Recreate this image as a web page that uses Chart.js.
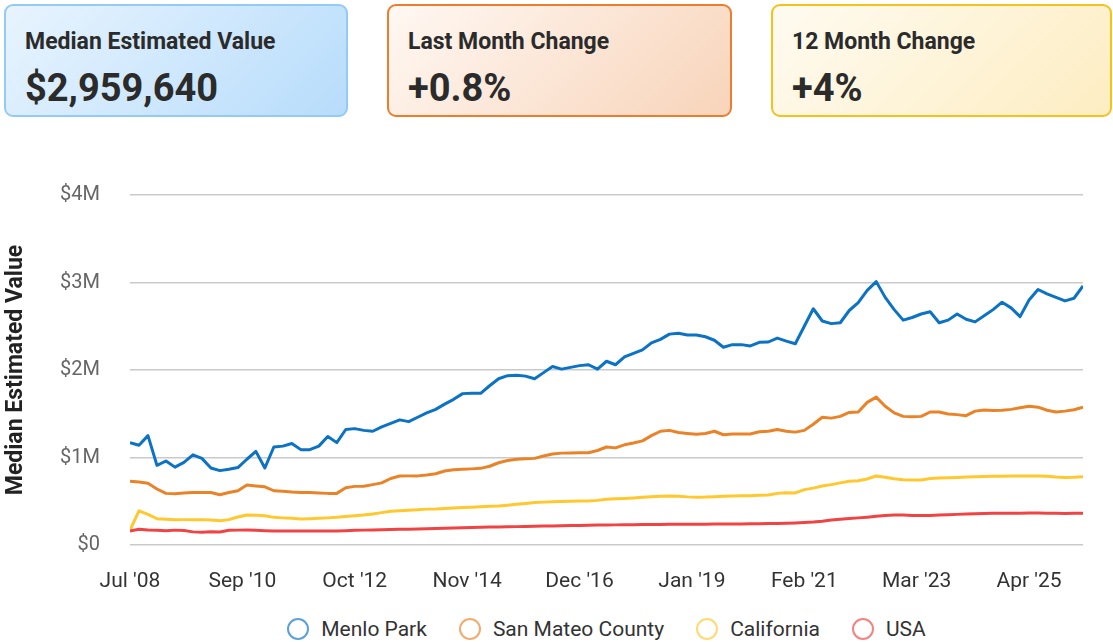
<!DOCTYPE html>
<html>
<head>
<meta charset="utf-8">
<script src="https://cdn.jsdelivr.net/npm/chart.js@4.4.1/dist/chart.umd.min.js"></script>
<style>
  html, body { margin: 0; padding: 0; background: #fff; width: 1113px; height: 642px; overflow: hidden; font-family: Roboto, sans-serif; }
  .card { position: absolute; top: 4px; height: 109px; border: 2px solid; border-radius: 9px; box-sizing: content-box; }
  .card .ttl { position: absolute; left: 19px; top: 23px; font-size: 23px; line-height: 26px; font-weight: 700; color: #2b2b2b; white-space: nowrap; }
  .card .val { position: absolute; left: 19px; top: 61px; font-size: 38px; line-height: 42px; font-weight: 700; color: #2b2b2b; white-space: nowrap; }
  #c1 { left: 4px; width: 340px; border-color: #93cbf4; background: linear-gradient(135deg, #e8f4fe 0%, #b7dcfb 100%); }
  #c2 { left: 387px; width: 341px; border-color: #ec7d2e; background: linear-gradient(135deg, #fff8f3 0%, #f8d4ba 100%); }
  #c3 { left: 771px; width: 337px; border-color: #f5c21b; background: linear-gradient(135deg, #fffbf1 0%, #fdedc2 100%); }
  #wrap { position: absolute; left: 0; top: 140px; width: 1113px; height: 465px; }
  #legend { position: absolute; left: 130px; width: 953px; top: 617px; height: 24px; display: flex; justify-content: center; align-items: center; font-size: 21px; color: #333; }
  #legend .item { display: flex; align-items: center; margin: 0 16px; white-space: nowrap; }
  #legend .dot { width: 18px; height: 18px; border-radius: 50%; border: 2px solid; margin-right: 12px; box-sizing: content-box; }
</style>
</head>
<body>
<div class="card" id="c1"><div class="ttl">Median Estimated Value</div><div class="val">$2,959,640</div></div>
<div class="card" id="c2"><div class="ttl">Last Month Change</div><div class="val">+0.8%</div></div>
<div class="card" id="c3"><div class="ttl">12 Month Change</div><div class="val">+4%</div></div>
<div id="wrap"><canvas id="chart"></canvas></div>
<div id="legend"></div>
<script>
// values in $M, one point every 2 months starting Jul 2008
const STEP = 2;
const TICK_POS = [0, 25, 50, 75, 100, 125, 150, 175, 200];
const TICK_LABELS = ["Jul '08", "Sep '10", "Oct '12", "Nov '14", "Dec '16", "Jan '19", "Feb '21", "Mar '23", "Apr '25"];
const SERIES_NAMES = ['Menlo Park', 'San Mateo County', 'California', 'USA'];
const COLORS = ['#0b72c4', '#ea8328', '#ffc82e', '#f04444'];

const menloPark = [1.17,1.14,1.25,0.91,0.96,0.89,0.945,1.03,0.99,0.88,
  0.85,0.865,0.885,0.98,1.07,0.88,1.12,1.13,1.16,1.09,
  1.09,1.13,1.24,1.17,1.32,1.33,1.31,1.30,1.35,1.39,
  1.43,1.41,1.46,1.51,1.55,1.61,1.665,1.73,1.733,1.733,
  1.82,1.90,1.935,1.94,1.93,1.90,1.97,2.04,2.01,2.03,
  2.05,2.06,2.01,2.10,2.06,2.15,2.19,2.23,2.31,2.35,
  2.41,2.42,2.40,2.40,2.38,2.34,2.26,2.29,2.29,2.275,
  2.316,2.32,2.365,2.33,2.30,2.50,2.70,2.56,2.53,2.54,
  2.68,2.77,2.91,3.01,2.83,2.69,2.57,2.60,2.64,2.665,
  2.54,2.57,2.64,2.58,2.55,2.62,2.69,2.775,2.71,2.61,
  2.80,2.92,2.87,2.83,2.79,2.82,2.96];

const sanMateo = [0.73,0.72,0.705,0.64,0.59,0.585,0.595,0.60,0.60,0.60,
  0.575,0.60,0.62,0.685,0.675,0.665,0.62,0.615,0.605,0.60,
  0.60,0.595,0.59,0.59,0.655,0.67,0.672,0.69,0.71,0.76,
  0.788,0.79,0.79,0.80,0.815,0.845,0.86,0.865,0.87,0.876,
  0.90,0.94,0.965,0.98,0.985,0.99,1.017,1.04,1.05,1.052,
  1.053,1.055,1.08,1.12,1.11,1.145,1.165,1.19,1.25,1.30,
  1.31,1.285,1.275,1.265,1.275,1.30,1.26,1.268,1.269,1.269,
  1.295,1.30,1.32,1.30,1.29,1.31,1.38,1.46,1.45,1.47,
  1.515,1.52,1.63,1.69,1.585,1.51,1.47,1.467,1.47,1.52,
  1.52,1.497,1.49,1.478,1.53,1.543,1.538,1.54,1.55,1.568,
  1.585,1.575,1.54,1.52,1.53,1.545,1.575];

const california = [0.17,0.39,0.35,0.30,0.293,0.288,0.29,0.29,0.29,0.285,
  0.278,0.29,0.32,0.343,0.34,0.335,0.316,0.31,0.305,0.297,
  0.30,0.305,0.31,0.316,0.325,0.335,0.342,0.355,0.37,0.385,
  0.392,0.398,0.404,0.41,0.412,0.418,0.423,0.428,0.432,0.436,
  0.442,0.446,0.455,0.465,0.475,0.485,0.49,0.495,0.498,0.50,
  0.502,0.503,0.51,0.522,0.528,0.532,0.538,0.545,0.552,0.556,
  0.56,0.556,0.55,0.547,0.548,0.552,0.556,0.56,0.562,0.564,
  0.568,0.572,0.59,0.598,0.595,0.633,0.65,0.675,0.69,0.71,
  0.728,0.735,0.755,0.789,0.775,0.758,0.745,0.743,0.743,0.76,
  0.765,0.768,0.772,0.776,0.78,0.782,0.785,0.787,0.789,0.789,
  0.789,0.789,0.785,0.777,0.772,0.775,0.781];

const usa = [0.16,0.18,0.172,0.168,0.162,0.17,0.165,0.15,0.147,0.152,
  0.148,0.168,0.17,0.171,0.168,0.163,0.16,0.16,0.16,0.16,
  0.16,0.16,0.16,0.16,0.164,0.168,0.17,0.172,0.175,0.177,
  0.179,0.181,0.183,0.186,0.189,0.191,0.193,0.196,0.199,0.202,
  0.205,0.207,0.208,0.21,0.212,0.214,0.216,0.218,0.22,0.222,
  0.224,0.226,0.228,0.229,0.23,0.231,0.232,0.233,0.234,0.235,
  0.236,0.237,0.237,0.238,0.238,0.239,0.24,0.24,0.241,0.242,
  0.243,0.245,0.247,0.249,0.252,0.256,0.262,0.272,0.285,0.295,
  0.303,0.31,0.318,0.328,0.338,0.342,0.342,0.338,0.336,0.338,
  0.342,0.346,0.35,0.354,0.358,0.36,0.362,0.363,0.363,0.364,
  0.365,0.365,0.364,0.362,0.361,0.362,0.362];

const allSeries = [menloPark, sanMateo, california, usa];

function toPoints(arr){ return arr.map((v, i) => ({ x: i * STEP, y: v })); }

function buildLegend(){
  const box = document.getElementById('legend');
  SERIES_NAMES.forEach((name, i) => {
    const item = document.createElement('div');
    item.className = 'item';
    const dot = document.createElement('span');
    dot.className = 'dot';
    dot.style.borderColor = COLORS[i] + 'aa';
    const txt = document.createElement('span');
    txt.textContent = name;
    item.appendChild(dot); item.appendChild(txt);
    box.appendChild(item);
  });
}

Chart.defaults.font.family = 'Roboto, sans-serif';

const ctx = document.getElementById('chart').getContext('2d');
new Chart(ctx, {
  type: 'line',
  data: {
    datasets: allSeries.map((arr, i) => ({
      label: SERIES_NAMES[i],
      data: toPoints(arr),
      borderColor: COLORS[i],
      backgroundColor: COLORS[i],
      borderWidth: 3,
      pointRadius: 0,
      tension: 0,
      borderJoinStyle: 'round',
      fill: false
    })).reverse()
  },
  options: {
    responsive: true, maintainAspectRatio: false, animation: false,
    layout: { padding: { top: 55, right: 30, left: 0, bottom: 0 } },
    plugins: { legend: { display: false }, tooltip: { enabled: false } },
    scales: {
      x: {
        type: 'linear', min: 0, max: (menloPark.length - 1) * STEP,
        grid: { display: false },
        border: { display: false },
        afterBuildTicks: (s) => { s.ticks = TICK_POS.map(v => ({ value: v })); },
        afterFit: (s) => { s.height = 60; },
        ticks: {
          autoSkip: false, maxRotation: 0, padding: 16,
          color: '#333', font: { size: 21 },
          callback: (v) => { const k = TICK_POS.indexOf(v); return k >= 0 ? TICK_LABELS[k] : ''; }
        }
      },
      y: {
        min: 0, max: 4,
        grid: { color: '#cacaca', lineWidth: 1.5, drawTicks: false },
        border: { display: false },
        afterFit: (s) => { s.width = 130; },
        title: { display: true, text: 'Median Estimated Value', color: '#222', font: { size: 23, weight: 'bold' }, padding: { top: 2, bottom: 4 } },
        ticks: {
          stepSize: 1, padding: 30, color: '#666', font: { size: 20 },
          callback: (v) => v === 0 ? '$0' : '$' + v + 'M'
        }
      }
    }
  }
});

buildLegend();
</script>
</body>
</html>
